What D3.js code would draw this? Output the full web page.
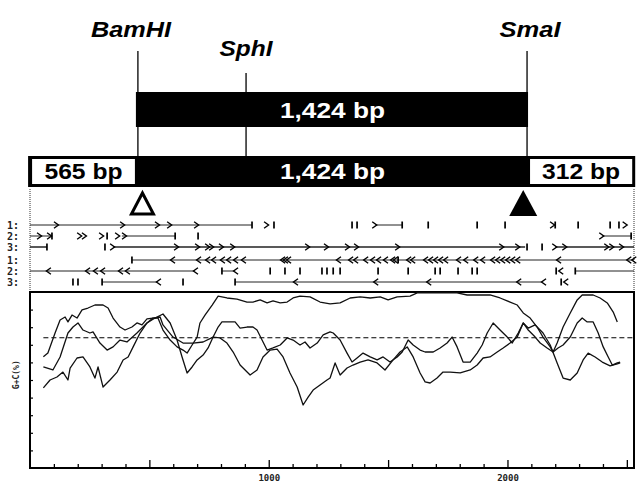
<!DOCTYPE html>
<html>
<head>
<meta charset="utf-8">
<script src="https://cdn.jsdelivr.net/npm/d3@7"></script>
<style>
  body { margin: 0; background: #fff; }
  svg { display: block; }
</style>
</head>
<body>
<div id="chart"></div>
<script>
// ---- restriction map (positions in bp, same axis as the G+C plot) ----
const siteNames = ["BamHI", "SphI", "SmaI"];
const sitePos = [452, 905, 2082];
const mapStart = -8, mapEnd = 2535;
const fragLabels = ["565 bp", "1,424 bp", "312 bp"];
const trianglePos = [471, 2066];   // open, filled

// ---- ORF tracks: 3 forward frames, 3 reverse frames ----
const orfRowLabels = ["1:", "2:", "3:", "1:", "2:", "3:"];
const orfStrand = [1, 1, 1, -1, -1, -1];
const orfLines = [
  [[0, 930], [1446, 1559]],
  [[0, 92], [385, 608], [2397, 2518]],
  [[0, 71], [348, 2074], [2200, 2530]],
  [[427, 2530]],
  [[0, 691], [804, 859], [2284, 2530]],
  [[302, 536], [859, 2149]]
];
const orfArrows = [
  [113, 390, 536, 587, 700, 993, 1446, 2191, 2495],
  [42, 84, 210, 230, 302, 369, 398, 2397],
  [348, 616, 704, 746, 763, 804, 851, 1165, 1244, 1332, 1370, 1542, 1978, 2045, 2200, 2242, 2418, 2439, 2480],
  [595, 704, 742, 767, 804, 830, 859, 892, 1056, 1068, 1081, 1290, 1341, 1362, 1404, 1433, 1458, 1487, 1517, 1529,
   1584, 1601, 1655, 1676, 1697, 1718, 1739, 1793, 1823, 1865, 1894, 1936, 1957, 1978, 1999, 2020, 2041, 2212, 2506, 2527],
  [75, 239, 272, 302, 377, 406, 691, 859, 2221],
  [536, 1110, 1446, 1668, 2045, 2149, 2242]
];
const orfStops = [
  [930, 1022, 1349, 1370, 1559, 1668, 1873, 1990, 2200, 2296, 2430, 2467],
  [92, 323, 608, 704, 2518],
  [71, 314, 2082, 2145],
  [427, 1542],
  [804, 1006, 1068, 1131, 1223, 1244, 1270, 1299, 1458, 1584, 1697, 1718, 1793, 1852, 1873, 2204, 2284],
  [180, 201, 302, 641, 859, 2225]
];

// ---- G+C content plot ----
const gcMean = 74;
const xTicks = [100, 200, 300, 400, 500, 600, 700, 800, 900, 1000, 1100, 1200, 1300,
                1400, 1500, 1600, 1700, 1800, 1900, 2000, 2100, 2200, 2300, 2400, 2500];
const xTickLabels = [1000, 2000];
const yTicks = [10, 20, 30, 40, 50, 60, 70, 80, 90];

const gc1 = [[56,63.2],[75,65.3],[105,76.7],[126,84.1],[147,85.8],[159,83.0],[176,86.9],[197,85.2],[218,89.8],[243,90.9],
  [272,92.6],[306,92.6],[327,90.9],[348,85.2],[377,80.1],[398,78.4],[427,80.1],[448,82.4],[469,81.3],[490,84.7],[515,85.2],
  [536,85.2],[557,78.4],[587,72.7],[616,68.8],[641,67.0],[658,65.3],[679,69.9],[700,74.4],[712,82.4],[733,86.9],[763,92.6],
  [788,97.7],[825,96.6],[867,96.0],[909,94.3],[934,94.3],[964,95.5],[993,93.8],[1018,94.9],[1048,93.8],[1077,94.3],
  [1102,96.6],[1131,97.7],[1173,97.2],[1215,94.3],[1257,93.2],[1299,93.8],[1341,96.6],[1383,97.2],[1425,96.6],[1467,97.2],
  [1500,95.5],[1538,97.2],[1592,97.7],[1622,99.5],[1676,99.5],[1789,99.5],[1831,98.3],[1927,98.3],[1969,96.6],[2011,94.3],
  [2041,92.6],[2066,88.1],[2095,85.2],[2124,80.1],[2149,74.4],[2179,68.8],[2191,65.9],[2208,71.0],[2233,80.1],[2263,88.1],
  [2292,95.5],[2313,98.3],[2359,98.3],[2388,96.6],[2418,93.8],[2443,88.6],[2460,83.0]];

const gc2 = [[56,57.4],[96,55.7],[126,63.1],[159,76.7],[180,80.1],[201,82.4],[222,78.4],[251,76.7],[264,77.3],[293,71.0],
  [323,67.0],[348,68.8],[377,72.7],[406,71.6],[448,76.7],[490,82.4],[524,85.2],[557,87.5],[587,82.4],[616,72.7],[637,63.1],
  [658,54.0],[679,57.4],[700,61.4],[725,64.2],[746,68.2],[767,74.4],[788,80.1],[804,83.0],[830,83.0],[859,83.0],[880,79.5],
  [909,80.1],[934,80.1],[951,78.4],[972,72.7],[993,67.0],[1018,68.2],[1048,69.9],[1077,73.9],[1102,72.7],[1131,69.9],
  [1152,71.6],[1173,68.2],[1203,71.0],[1228,75.6],[1257,77.3],[1270,76.7],[1299,72.7],[1328,65.3],[1349,60.2],[1370,62.5],
  [1395,65.3],[1425,63.1],[1454,61.4],[1479,63.1],[1508,60.2],[1538,63.1],[1559,65.9],[1584,72.7],[1605,69.9],[1634,67.0],
  [1655,65.9],[1689,65.9],[1718,68.2],[1747,71.0],[1768,74.4],[1789,68.8],[1814,60.2],[1844,60.2],[1873,65.3],[1894,69.9],
  [1915,76.7],[1940,82.4],[1969,78.4],[1999,74.4],[2020,71.0],[2045,76.7],[2066,82.4],[2087,78.4],[2116,74.4],[2137,71.0],
  [2166,68.2],[2191,65.9],[2212,68.2],[2233,69.9],[2263,74.4],[2292,82.4],[2313,85.2],[2334,83.0],[2359,83.0],[2380,76.7],
  [2401,68.8],[2422,63.1],[2439,58.5],[2460,59.7],[2472,60.2]];

const gc3 = [[56,45.5],[84,50.0],[113,51.7],[138,54.5],[159,50.0],[168,56.8],[197,62.5],[222,63.1],[251,57.4],[272,51.1],
  [285,57.4],[306,46.0],[335,50.0],[365,54.5],[390,61.4],[411,63.1],[432,68.8],[461,76.7],[490,82.4],[515,85.2],[545,85.8],
  [557,81.3],[599,74.4],[641,71.0],[683,71.0],[725,71.6],[767,74.4],[796,73.9],[825,71.0],[851,65.9],[880,58.5],[922,52.8],
  [951,55.7],[976,63.1],[1006,67.0],[1035,67.6],[1060,63.1],[1089,54.0],[1119,46.0],[1144,35.8],[1165,40.3],[1186,44.3],
  [1215,47.2],[1244,50.0],[1257,51.1],[1278,59.7],[1299,52.8],[1328,56.8],[1353,58.5],[1383,60.2],[1416,61.4],[1454,59.7],
  [1487,55.7],[1521,61.4],[1550,65.9],[1580,68.8],[1605,63.1],[1634,54.0],[1655,48.9],[1676,48.3],[1705,51.1],[1730,54.5],
  [1760,54.5],[1802,54.0],[1844,55.7],[1873,58.5],[1898,62.5],[1927,63.1],[1957,65.9],[1982,68.2],[2011,71.0],[2041,74.4],
  [2066,82.4],[2087,79.5],[2116,81.3],[2149,76.7],[2179,69.9],[2208,59.7],[2233,51.1],[2263,50.0],[2292,54.0],[2317,61.4],
  [2338,65.3],[2367,63.1],[2397,60.2],[2430,58.0],[2460,59.1],[2472,59.7]];

// ---- layout ----
const width = 641, height = 482;
const svg = d3.select("#chart").append("svg")
  .attr("width", width)
  .attr("height", height)
  .style("background", "#fff");

const x = d3.scaleLinear().domain([0, 2530]).range([30, 634]);
const y = d3.scaleLinear().domain([0, 100]).range([468, 292]);

const boldFont = "'Liberation Sans', Arial, sans-serif";
const monoFont = "'DejaVu Sans Mono', monospace";

// site labels and lines
const labelDx = [-7, 0, 3];
const labelY = [37, 56, 37];
const labelW = [80, 53, 61];
const lineTop = [51, 73, 51];

svg.selectAll("line.site")
  .data(sitePos)
  .join("line")
  .attr("class", "site")
  .attr("x1", d => x(d)).attr("x2", d => x(d))
  .attr("y1", (d, i) => lineTop[i]).attr("y2", 156)
  .attr("stroke", "#000")
  .attr("stroke-width", 1.3);

svg.selectAll("text.site")
  .data(siteNames)
  .join("text")
  .attr("class", "site")
  .attr("x", (d, i) => x(sitePos[i]) + labelDx[i])
  .attr("y", (d, i) => labelY[i])
  .attr("text-anchor", "middle")
  .attr("font-family", boldFont)
  .attr("font-weight", "bold")
  .attr("font-style", "italic")
  .attr("font-size", 22)
  .attr("textLength", (d, i) => labelW[i])
  .attr("lengthAdjust", "spacingAndGlyphs")
  .text(d => d);

// cloned fragment (top bar)
svg.append("rect")
  .attr("x", x(sitePos[0]) - 2)
  .attr("y", 92)
  .attr("width", x(sitePos[2]) - x(sitePos[0]) + 3)
  .attr("height", 35)
  .attr("fill", "#000");

svg.append("text")
  .attr("x", (x(sitePos[0]) + x(sitePos[2])) / 2)
  .attr("y", 118)
  .attr("text-anchor", "middle")
  .attr("font-family", boldFont)
  .attr("font-weight", "bold")
  .attr("font-size", 22)
  .attr("textLength", 105)
  .attr("lengthAdjust", "spacingAndGlyphs")
  .attr("fill", "#fff")
  .text(fragLabels[1]);

// full fragment (bottom bar)
svg.append("rect")
  .attr("x", x(mapStart))
  .attr("y", 156)
  .attr("width", x(mapEnd) - x(mapStart))
  .attr("height", 31)
  .attr("fill", "#000");

const sideBoxes = [
  { x0: x(mapStart) + 4, x1: x(sitePos[0]) - 3, label: fragLabels[0] },
  { x0: x(sitePos[2]) + 3, x1: x(mapEnd) - 3, label: fragLabels[2] }
];
svg.selectAll("rect.side")
  .data(sideBoxes)
  .join("rect")
  .attr("class", "side")
  .attr("x", d => d.x0)
  .attr("y", 159)
  .attr("width", d => d.x1 - d.x0)
  .attr("height", 25)
  .attr("fill", "#fff");

svg.selectAll("text.side")
  .data(sideBoxes)
  .join("text")
  .attr("class", "side")
  .attr("x", d => (d.x0 + d.x1) / 2)
  .attr("y", 179)
  .attr("text-anchor", "middle")
  .attr("font-family", boldFont)
  .attr("font-weight", "bold")
  .attr("font-size", 22)
  .attr("textLength", 78)
  .attr("lengthAdjust", "spacingAndGlyphs")
  .text(d => d.label);

svg.append("text")
  .attr("x", (x(sitePos[0]) + x(sitePos[2])) / 2)
  .attr("y", 179)
  .attr("text-anchor", "middle")
  .attr("font-family", boldFont)
  .attr("font-weight", "bold")
  .attr("font-size", 22)
  .attr("textLength", 105)
  .attr("lengthAdjust", "spacingAndGlyphs")
  .attr("fill", "#fff")
  .text(fragLabels[1]);

// triangles
svg.append("path")
  .attr("d", `M${x(trianglePos[0])},193 L${x(trianglePos[0]) + 11},214 L${x(trianglePos[0]) - 11},214 Z`)
  .attr("fill", "#fff")
  .attr("stroke", "#000")
  .attr("stroke-width", 3)
  .attr("stroke-linejoin", "miter");
svg.append("path")
  .attr("d", `M${x(trianglePos[1])},190 L${x(trianglePos[1]) + 14},216 L${x(trianglePos[1]) - 14},216 Z`)
  .attr("fill", "#000");

// ORF panel side borders (dotted)
svg.selectAll("line.orfside")
  .data([0, 2530])
  .join("line")
  .attr("class", "orfside")
  .attr("x1", d => x(d)).attr("x2", d => x(d))
  .attr("y1", 189).attr("y2", 292)
  .attr("stroke", "#333")
  .attr("stroke-width", 1)
  .attr("stroke-dasharray", "1,1");

// ORF rows
const rowY = i => 225 + i * 11 + (i > 2 ? 2 : 0);

orfRowLabels.forEach((lab, i) => {
  const cy = rowY(i);
  const g = svg.append("g");

  g.append("text")
    .attr("x", 7)
    .attr("y", cy + 3.5)
    .attr("font-family", monoFont)
    .attr("font-size", 10)
    .attr("font-weight", "bold")
    .attr("fill", "#222")
    .text(lab);

  g.selectAll("line.seg")
    .data(orfLines[i])
    .join("line")
    .attr("class", "seg")
    .attr("x1", d => x(d[0])).attr("x2", d => x(d[1]))
    .attr("y1", cy).attr("y2", cy)
    .attr("stroke", "#222")
    .attr("stroke-width", i === 2 ? 1.5 : 1);

  const s = orfStrand[i];
  g.selectAll("path.arr")
    .data(orfArrows[i])
    .join("path")
    .attr("class", "arr")
    .attr("d", d => `M${x(d) - 3 * s},${cy - 3.2} L${x(d) + 1.5 * s},${cy} L${x(d) - 3 * s},${cy + 3.2}`)
    .attr("fill", "none")
    .attr("stroke", "#000")
    .attr("stroke-width", 1.4);

  g.selectAll("line.stop")
    .data(orfStops[i])
    .join("line")
    .attr("class", "stop")
    .attr("x1", d => x(d)).attr("x2", d => x(d))
    .attr("y1", cy - 3.5).attr("y2", cy + 3.5)
    .attr("stroke", "#000")
    .attr("stroke-width", 1.7);
});

// G+C plot axes
const xAxis = d3.axisBottom(x)
  .tickValues(xTicks)
  .tickSize(-4)
  .tickSizeOuter(0)
  .tickPadding(7)
  .tickFormat(d => xTickLabels.includes(d) ? d : "");

const gx = svg.append("g")
  .attr("transform", `translate(0,${y(0)})`)
  .call(xAxis);
gx.select(".domain").remove();
gx.selectAll(".tick line")
  .attr("y2", d => d % 500 === 0 ? -8 : -4)
  .attr("stroke", "#000")
  .attr("stroke-width", 1.3);
gx.selectAll(".tick text")
  .attr("font-family", monoFont)
  .attr("font-size", 9)
  .attr("font-weight", "bold")
  .attr("fill", "#222");

const yAxis = d3.axisLeft(y)
  .tickValues(yTicks)
  .tickSize(-3)
  .tickSizeOuter(0)
  .tickFormat("");
const gy = svg.append("g")
  .attr("transform", `translate(${x(0)},0)`)
  .call(yAxis);
gy.select(".domain").remove();
gy.selectAll(".tick line").attr("stroke", "#000").attr("stroke-width", 1.2);

// frame
svg.append("rect")
  .attr("x", x(0))
  .attr("y", y(100))
  .attr("width", x(2530) - x(0))
  .attr("height", y(0) - y(100))
  .attr("fill", "none")
  .attr("stroke", "#000")
  .attr("stroke-width", 2);

// mean G+C
svg.append("line")
  .attr("x1", x(56)).attr("x2", x(2530))
  .attr("y1", y(gcMean)).attr("y2", y(gcMean))
  .attr("stroke", "#000")
  .attr("stroke-width", 1.2)
  .attr("stroke-dasharray", "5,3");

// curves
const line = d3.line().x(d => x(d[0])).y(d => y(d[1]));
svg.selectAll("path.gc")
  .data([gc1, gc2, gc3])
  .join("path")
  .attr("class", "gc")
  .attr("d", line)
  .attr("fill", "none")
  .attr("stroke", "#111")
  .attr("stroke-width", 1.3)
  .attr("stroke-linejoin", "round");

// y label
svg.append("text")
  .attr("transform", `translate(19,${y(53)}) rotate(-90)`)
  .attr("text-anchor", "middle")
  .attr("font-family", monoFont)
  .attr("font-size", 8)
  .attr("font-weight", "bold")
  .attr("fill", "#222")
  .text("G+C(%)");
</script>
</body>
</html>
